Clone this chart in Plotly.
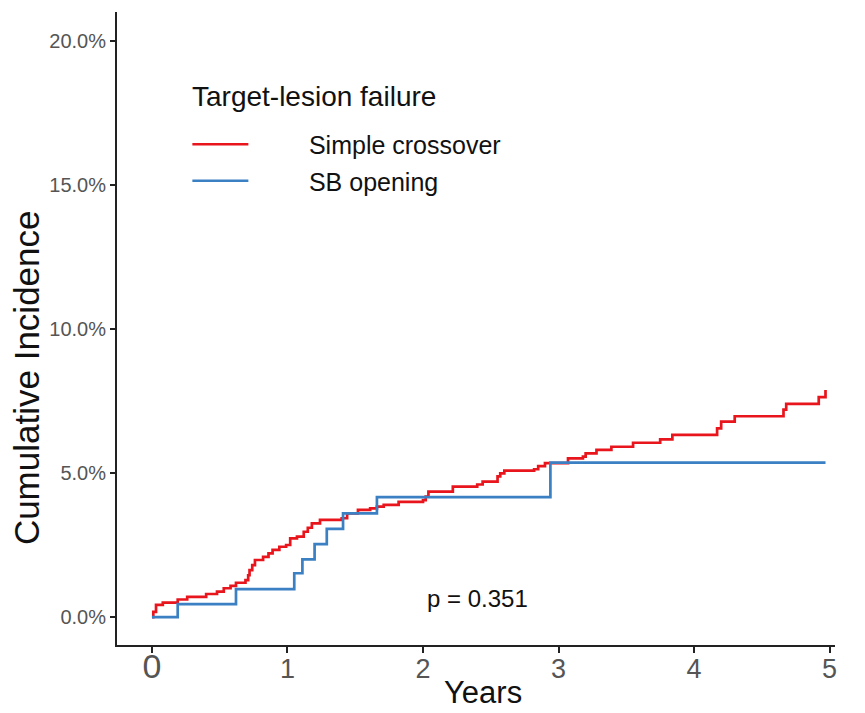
import plotly.graph_objects as go

# Cumulative incidence of target-lesion failure (percent) by follow-up year
red_time = [0.00, 0.01, 0.03, 0.08, 0.19, 0.26, 0.40, 0.48, 0.53, 0.58, 0.62, 0.69, 0.71, 0.72,
            0.74, 0.76, 0.82, 0.86, 0.89, 0.94, 0.99, 1.02, 1.07, 1.12, 1.15, 1.18, 1.24, 1.40,
            1.44, 1.52, 1.61, 1.66, 1.71, 1.82, 2.00, 2.02, 2.04, 2.22, 2.40, 2.44, 2.55, 2.57,
            2.60, 2.82, 2.85, 2.90, 3.07, 3.18, 3.20, 3.28, 3.39, 3.55, 3.75, 3.84, 4.17, 4.20,
            4.30, 4.66, 4.68, 4.92, 4.97]
red_cum = [0.00, 0.18, 0.42, 0.50, 0.61, 0.70, 0.80, 0.88, 1.00, 1.08, 1.19, 1.28, 1.45, 1.63,
           1.80, 1.98, 2.09, 2.21, 2.33, 2.44, 2.50, 2.73, 2.79, 2.96, 3.10, 3.25, 3.37, 3.43,
           3.60, 3.72, 3.77, 3.83, 3.89, 4.00, 4.06, 4.18, 4.35, 4.53, 4.60, 4.70, 4.88, 4.99,
           5.08, 5.13, 5.24, 5.34, 5.51, 5.57, 5.68, 5.80, 5.91, 6.05, 6.17, 6.32, 6.55, 6.78,
           6.97, 7.20, 7.40, 7.63, 7.88]

blue_time = [0.00, 0.19, 0.62, 1.05, 1.11, 1.20, 1.29, 1.41, 1.66, 2.94, 4.97]
blue_cum = [0.00, 0.45, 0.97, 1.52, 2.00, 2.53, 3.06, 3.60, 4.16, 5.36, 5.36]

series_names = ["Simple crossover", "SB opening"]
legend_title = "Target-lesion failure"
p_label = "p = 0.351"
x_title = "Years"
y_title = "Cumulative Incidence"

x_ticks = [0, 1, 2, 3, 4, 5]
y_ticks = [0, 5, 10, 15, 20]
y_tick_labels = ["0.0%", "5.0%", "10.0%", "15.0%", "20.0%"]

RED = "#E8151D"
BLUE = "#3A80C3"
REG = "Liberation Sans, Arial, sans-serif"
PAD = "\u00a0" * 8

fig = go.Figure()
fig.add_trace(go.Scatter(
    x=red_time, y=red_cum, mode="lines", line=dict(color=RED, width=2.7, shape="hv"),
    name=PAD + series_names[0], legendrank=1, legendgroup="a",
))
fig.add_trace(go.Scatter(
    x=blue_time, y=blue_cum, mode="lines", line=dict(color=BLUE, width=2.7, shape="hv"),
    name=PAD + series_names[1], legendrank=2, legendgroup="b",
))

x_tick_text = ['<span style="font-size:34px">0</span>'] + [str(v) for v in x_ticks[1:]]

fig.update_layout(
    width=865, height=713,
    margin=dict(l=117, r=30, t=12, b=68, autoexpand=False),
    paper_bgcolor="white", plot_bgcolor="white",
    showlegend=True,
    legend=dict(
        font=dict(family=REG, size=25, color="#111"),
        x=0.098, y=0.827, xanchor="left", yanchor="top",
        bgcolor="rgba(0,0,0,0)", itemwidth=56, tracegroupgap=1,
    ),
    xaxis=dict(
        range=[-0.258, 5.04], tickvals=x_ticks, ticktext=x_tick_text, automargin=False,
        showline=True, linecolor="#222", linewidth=2, ticks="outside", ticklen=6,
        tickcolor="#222", tickwidth=1.5, showgrid=False, zeroline=False, ticklabelstandoff=-7,
        tickfont=dict(family=REG, size=27, color="#555"),
    ),
    yaxis=dict(
        range=[-0.97, 21.0], tickvals=y_ticks, ticktext=y_tick_labels, automargin=False,
        showline=True, linecolor="#222", linewidth=2, ticks="outside", ticklen=5,
        tickcolor="#222", tickwidth=1.5, showgrid=False, zeroline=False,
        tickfont=dict(family=REG, size=20, color="#555"),
    ),
)

# Axis titles placed as annotations for exact positioning
fig.add_annotation(
    x=-0.125, y=0.422, xref="paper", yref="paper", text=y_title, textangle=-90,
    showarrow=False, xanchor="center", yanchor="middle",
    font=dict(family=REG, size=35, color="#111"),
)
fig.add_annotation(
    x=0.51, y=-0.075, xref="paper", yref="paper", text=x_title,
    showarrow=False, xanchor="center", yanchor="middle",
    font=dict(family=REG, size=31, color="#111"),
)

# Legend heading
fig.add_annotation(
    x=0.102, y=0.866, xref="paper", yref="paper", text=legend_title,
    showarrow=False, xanchor="left", yanchor="middle",
    font=dict(family=REG, size=28, color="#111"),
)

fig.add_annotation(
    x=2.4, y=0.66, xref="x", yref="y", text=p_label, showarrow=False,
    font=dict(family=REG, size=24, color="#111"),
)

fig.write_html("out.html")
